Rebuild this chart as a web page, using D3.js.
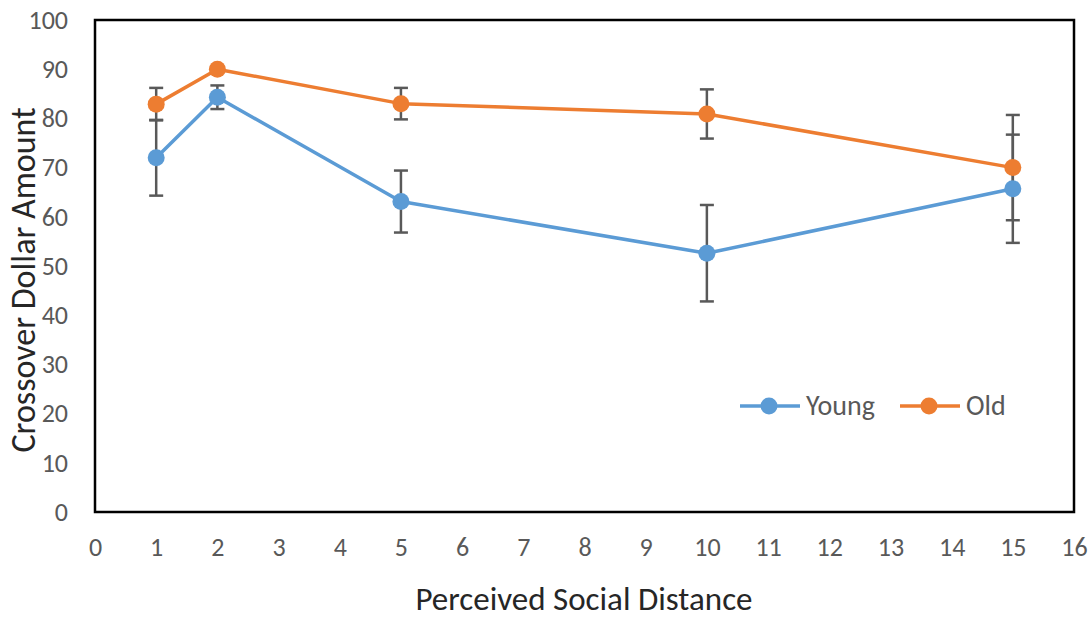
<!DOCTYPE html>
<html>
<head>
<meta charset="utf-8">
<script src="https://cdn.jsdelivr.net/npm/d3@7"></script>
<style>
  body { margin: 0; background: #fff; }
  text { font-family: Calibri, Carlito, "Open Sans", "Noto Sans", sans-serif; }
</style>
</head>
<body>
<div id="chart"></div>
<script>
// chart data
const distances = [1, 2, 5, 10, 15];
const youngMeans = [72, 84.3, 63.1, 52.6, 65.7];
const youngErr = [7.7, 2.4, 6.3, 9.8, 11];
const oldMeans = [82.9, 90, 83, 80.9, 70];
const oldErr = [3.3, 0, 3.2, 5, 10.7];
const xTicks = d3.range(0, 17);
const yTicks = d3.range(0, 101, 10);

const W = 1089, H = 621;
const margin = {top: 20, right: 15, bottom: 109, left: 95};

const svg = d3.select("#chart")
  .append("svg")
    .attr("width", W)
    .attr("height", H);

const x = d3.scaleLinear().domain([0, 16]).range([margin.left, W - margin.right]);
const y = d3.scaleLinear().domain([0, 100]).range([H - margin.bottom, margin.top]);

// y tick labels
const yAxis = svg.append("g")
  .attr("transform", `translate(${margin.left},0)`)
  .call(d3.axisLeft(y).tickValues(yTicks).tickSize(0).tickPadding(27));
yAxis.select(".domain").remove();
yAxis.selectAll("text").attr("font-size", 26).attr("fill", "#595959");

// x tick labels
const xAxis = svg.append("g")
  .attr("transform", `translate(0,${H - margin.bottom})`)
  .call(d3.axisBottom(x).tickValues(xTicks).tickSize(0).tickPadding(26));
xAxis.select(".domain").remove();
xAxis.selectAll("text").attr("font-size", 26).attr("fill", "#595959");

// plot frame
svg.append("rect")
  .attr("x", x(0))
  .attr("y", y(100))
  .attr("width", x(16) - x(0))
  .attr("height", y(0) - y(100))
  .attr("fill", "none")
  .attr("stroke", "#000")
  .attr("stroke-width", 2.5);

// axis titles
svg.append("text")
  .attr("x", 584)
  .attr("y", 610)
  .attr("text-anchor", "middle")
  .attr("font-size", 33)
  .attr("fill", "#262626")
  .text("Perceived Social Distance");

svg.append("text")
  .attr("transform", `translate(35,280) rotate(-90)`)
  .attr("text-anchor", "middle")
  .attr("font-size", 34)
  .attr("fill", "#262626")
  .text("Crossover Dollar Amount");

const series = [
  {name: "Young", means: youngMeans, err: youngErr, color: "#5B9BD5"},
  {name: "Old", means: oldMeans, err: oldErr, color: "#ED7D31"}
];

const line = d3.line().x(d => x(d[0])).y(d => y(d[1]));

// error bars first so markers sit on top
series.forEach(s => {
  const g = svg.append("g").attr("stroke", "#595959").attr("stroke-width", 2.5);
  s.means.forEach((m, i) => {
    if (!s.err[i]) return;
    const cx = x(distances[i]);
    g.append("line").attr("x1", cx).attr("x2", cx)
      .attr("y1", y(m + s.err[i])).attr("y2", y(m - s.err[i]));
    [m + s.err[i], m - s.err[i]].forEach(v => {
      g.append("line").attr("x1", cx - 7).attr("x2", cx + 7)
        .attr("y1", y(v)).attr("y2", y(v));
    });
  });
});

series.forEach(s => {
  const pts = distances.map((d, i) => [d, s.means[i]]);
  svg.append("path")
    .attr("d", line(pts))
    .attr("fill", "none")
    .attr("stroke", s.color)
    .attr("stroke-width", 3.5)
    .attr("stroke-linejoin", "round");
  svg.selectAll(null)
    .data(pts)
    .enter()
    .append("circle")
      .attr("cx", d => x(d[0]))
      .attr("cy", d => y(d[1]))
      .attr("r", 8.5)
      .attr("fill", s.color);
});

// legend
const legendX = [740, 900];
series.forEach((s, i) => {
  const g = svg.append("g").attr("transform", `translate(${legendX[i]},406)`);
  g.append("line").attr("x1", 0).attr("x2", 60).attr("y1", 0).attr("y2", 0)
    .attr("stroke", s.color).attr("stroke-width", 3.5);
  g.append("circle").attr("cx", 29).attr("cy", 0).attr("r", 8.5).attr("fill", s.color);
  g.append("text").attr("x", 66).attr("y", 9)
    .attr("font-size", 28).attr("fill", "#595959").text(s.name);
});
</script>
</body>
</html>
